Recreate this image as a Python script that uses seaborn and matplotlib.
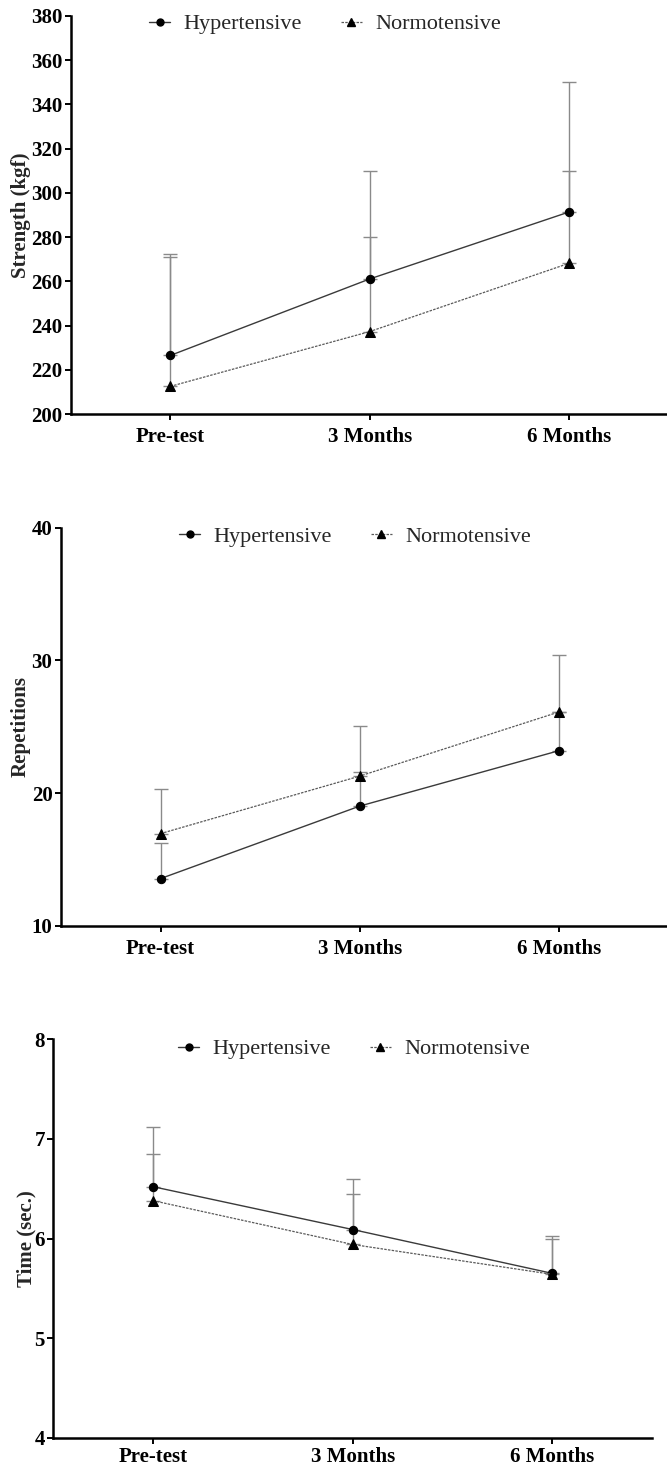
import numpy as np
import matplotlib
matplotlib.use("Agg")
import matplotlib.pyplot as plt
from matplotlib.lines import Line2D
import seaborn as sns

# Time points
categories = ["Pre-test", "3 Months", "6 Months"]
groups = ["Hypertensive", "Normotensive"]

# Strength (kgf): means and upper SD
strength_hyp = [226.5, 261.1, 291.4]
strength_hyp_sd = [46.0, 49.0, 58.6]
strength_norm = [212.5, 237.3, 268.2]
strength_norm_sd = [58.7, 42.7, 41.8]

# Repetitions: means and upper SD
reps_hyp = [13.55, 19.02, 23.2]
reps_hyp_sd = [2.65, 2.6, 2.9]
reps_norm = [16.94, 21.28, 26.12]
reps_norm_sd = [3.36, 3.76, 4.32]

# Time (sec.): means and upper SD
time_hyp = [6.52, 6.09, 5.65]
time_hyp_sd = [0.60, 0.51, 0.38]
time_norm = [6.38, 5.94, 5.64]
time_norm_sd = [0.47, 0.51, 0.35]

sns.set_style("ticks")
plt.rcParams["font.family"] = ["Liberation Serif", "DejaVu Serif"]

W, H = 667, 1467
fig = plt.figure(figsize=(W / 100, H / 100), dpi=100)

HYP_STYLE = dict(color="#3a3a3a", lw=1.0, marker="o", markerfacecolor="black",
                 markeredgecolor="black")
NORM_STYLE = dict(color="#5a5a5a", lw=0.9, linestyle=(0, (2, 1)), marker="^",
                  markerfacecolor="black", markeredgecolor="black")

panels = [
    dict(hyp=strength_hyp, hyp_sd=strength_hyp_sd, norm=strength_norm, norm_sd=strength_norm_sd,
         ylabel="Strength (kgf)", ylim=(200, 380), yticks=np.arange(200, 381, 20),
         box=(70.7, 16, 669, 414), xmax=2.5, leg=(325, 24), ylab_x=31, xpad=5),
    dict(hyp=reps_hyp, hyp_sd=reps_hyp_sd, norm=reps_norm, norm_sd=reps_norm_sd,
         ylabel="Repetitions", ylim=(10, 40), yticks=[10, 20, 30, 40],
         box=(60.8, 527.7, 667, 925.7), xmax=2.54, leg=(355, 536.5), ylab_x=31, xpad=5),
    dict(hyp=time_hyp, hyp_sd=time_hyp_sd, norm=time_norm, norm_sd=time_norm_sd,
         ylabel="Time (sec.)", ylim=(4, 8), yticks=[4, 5, 6, 7, 8],
         box=(53.3, 1039.3, 652, 1437.7), xmax=2.5, leg=(354, 1049), ylab_x=36, xpad=2.5),
]

for p in panels:
    l, t, r, b = p["box"]
    ax = fig.add_axes([l / W, 1 - b / H, (r - l) / W, (b - t) / H])

    # upper-only error bars
    for mean, sd in ((p["hyp"], p["hyp_sd"]), (p["norm"], p["norm_sd"])):
        ax.errorbar(categories, mean, yerr=[np.zeros(len(sd)), sd], fmt="none",
                    ecolor="#8a8a8a", elinewidth=1.0, capsize=5, capthick=1.0, zorder=1)

    sns.lineplot(x=categories, y=p["hyp"], sort=False, ax=ax, markersize=6,
                 legend=False, zorder=3, **HYP_STYLE)
    sns.lineplot(x=categories, y=p["norm"], sort=False, ax=ax, markersize=7,
                 legend=False, zorder=3, **NORM_STYLE)

    ax.set_xlim(-0.5, p["xmax"])
    ax.set_ylim(*p["ylim"])
    ax.set_yticks(p["yticks"])
    ax.set_xlabel("")
    sns.despine(ax=ax)
    for s in ("left", "bottom"):
        ax.spines[s].set_linewidth(1.8)
        ax.spines[s].set_color("black")
    ax.tick_params(axis="both", length=4.5, width=1.4, color="black", labelsize=15,
                   labelcolor="black")
    ax.tick_params(axis="y", pad=1.5)
    ax.tick_params(axis="x", pad=p["xpad"])
    for lab in ax.get_xticklabels() + ax.get_yticklabels():
        lab.set_fontweight("bold")

    ax.set_ylabel(p["ylabel"], fontsize=15, fontweight="bold")
    ax.yaxis.set_label_coords((p["ylab_x"] - l) / (r - l), 0.5)

    lx, ly = p["leg"]
    handles = [Line2D([], [], markersize=5, **HYP_STYLE),
               Line2D([], [], markersize=5.5, **NORM_STYLE)]
    ax.legend(handles, groups, loc="center", ncol=2, frameon=False, fontsize=16,
              bbox_to_anchor=(lx / W, 1 - ly / H), bbox_transform=fig.transFigure,
              handlelength=0.95, handletextpad=0.6, columnspacing=1.75, borderpad=0)

fig.savefig("out.png", dpi=100)
